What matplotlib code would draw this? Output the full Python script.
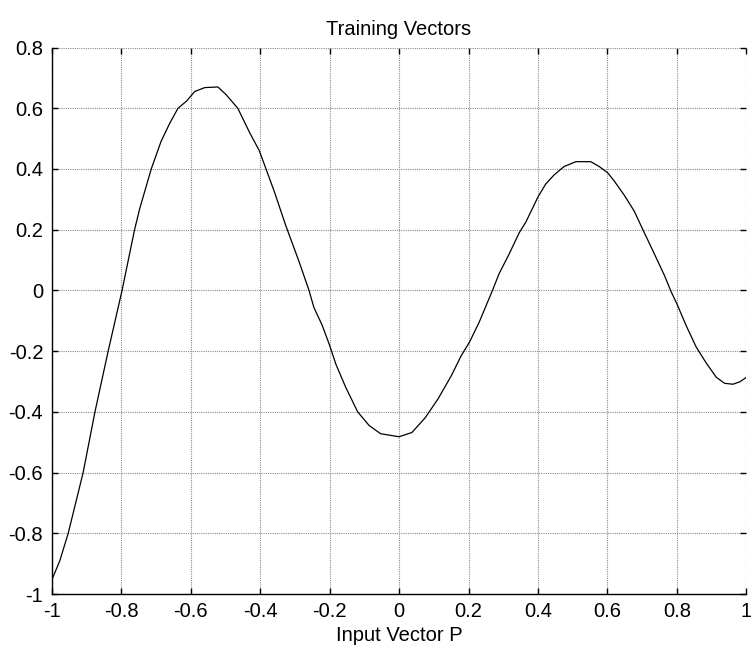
import matplotlib.pyplot as plt

plt.rcParams["font.family"] = ["Liberation Sans", "DejaVu Sans"]

# sampled training vectors (input P, target T)
p = [-1.0, -0.976, -0.952, -0.909, -0.875, -0.837, -0.797, -0.761, -0.746, -0.713,
     -0.685, -0.66, -0.636, -0.611, -0.588, -0.559, -0.521, -0.497, -0.464, -0.43,
     -0.402, -0.359, -0.326, -0.288, -0.259, -0.245, -0.221, -0.2, -0.181,
     -0.153, -0.119, -0.086, -0.053, 0.0, 0.037, 0.075, 0.113, 0.151, 0.179,
     0.203, 0.231, 0.269, 0.288, 0.317, 0.346, 0.365, 0.4, 0.422, 0.446,
     0.475, 0.509, 0.552, 0.576, 0.6, 0.619, 0.648, 0.677, 0.701, 0.73,
     0.764, 0.783, 0.8, 0.826, 0.855, 0.884, 0.913, 0.937, 0.961, 0.981, 1.0]
t = [-0.956, -0.89, -0.8, -0.6, -0.4, -0.2, 0.0, 0.2, 0.27, 0.4,
     0.49, 0.55, 0.6, 0.624, 0.655, 0.668, 0.67, 0.644, 0.6, 0.52,
     0.46, 0.326, 0.214, 0.096, 0.0, -0.056, -0.115, -0.18, -0.245,
     -0.32, -0.4, -0.445, -0.472, -0.482, -0.468, -0.42, -0.356, -0.28, -0.215,
     -0.17, -0.104, 0.0, 0.055, 0.12, 0.19, 0.225, 0.308, 0.35, 0.38,
     0.408, 0.424, 0.424, 0.408, 0.388, 0.361, 0.314, 0.261, 0.202, 0.132,
     0.049, -0.004, -0.045, -0.115, -0.186, -0.239, -0.286, -0.306, -0.309, -0.301, -0.286]

xticks = [-1, -0.8, -0.6, -0.4, -0.2, 0, 0.2, 0.4, 0.6, 0.8, 1]
yticks = [-1, -0.8, -0.6, -0.4, -0.2, 0, 0.2, 0.4, 0.6, 0.8]

fig = plt.figure(figsize=(7.51, 6.49), dpi=100)
ax = fig.add_axes([0.0686, 0.0847, 0.9254, 0.8421])

ax.plot(p, t, color="black", lw=0.9)

ax.set_xlim(-1, 1)
ax.set_ylim(-1, 0.8)
ax.set_xticks(xticks)
ax.set_yticks(yticks)
ax.set_xticklabels(["%g" % v for v in xticks])
ax.set_yticklabels(["%g" % v for v in yticks])
ax.tick_params(direction="in", length=4, width=1, labelsize=14.5,
               top=True, right=True, pad=6)

ax.grid(True, color="0.55", linestyle=(0, (1, 1)), lw=0.8)
for side in ["top", "right"]:
    ax.spines[side].set_visible(False)
for side in ["left", "bottom"]:
    ax.spines[side].set_linewidth(1)

ax.set_title("Training Vectors", fontsize=14.5, pad=9)
ax.set_xlabel("Input Vector P", fontsize=14.5, labelpad=3)

fig.savefig("out.png", dpi=100)
